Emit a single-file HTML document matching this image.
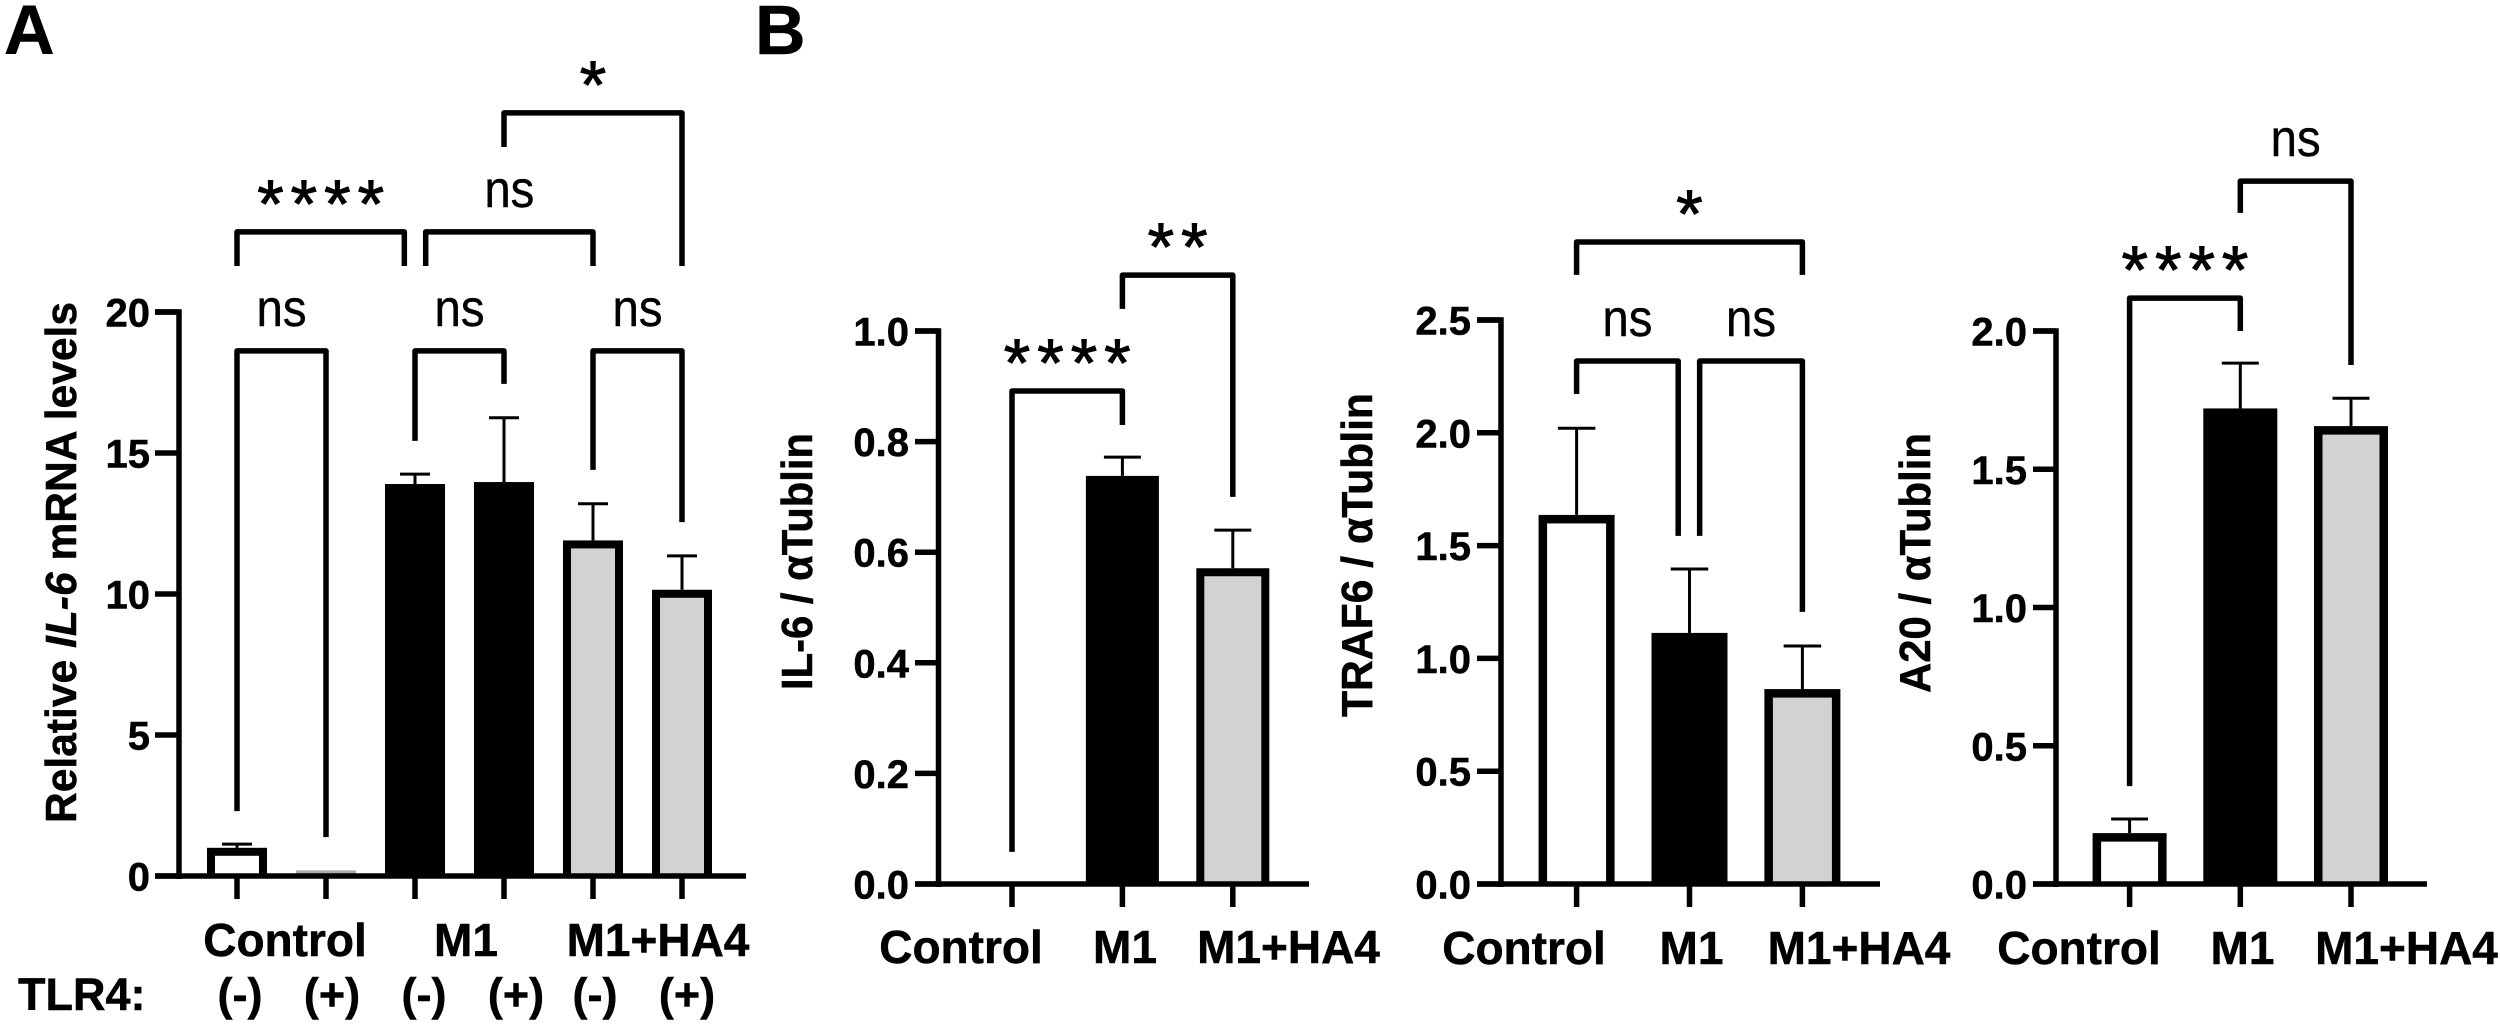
<!DOCTYPE html>
<html lang="en">
<head>
<meta charset="utf-8">
<title>IL-6, TRAF6 and A20 expression</title>
<style>
html,body{margin:0;padding:0;background:#fff;}
#figure{display:block;width:2500px;height:1025px;background:#fff;}
text{font-family:"Liberation Sans",sans-serif;fill:#000;}
.b{font-weight:bold;stroke:#000;stroke-width:0.5px;}
</style>
</head>
<body>
<svg id="figure" xmlns="http://www.w3.org/2000/svg" width="2500" height="1025" viewBox="0 0 2500 1025">
  <text class="b" x="4" y="54" font-size="70">A</text>
  <text class="b" x="755" y="54" font-size="70">B</text>

  <text class="b" transform="translate(76,562.5) rotate(-90)" text-anchor="middle" font-size="44" textLength="521" lengthAdjust="spacingAndGlyphs">Relative <tspan font-style="italic">IL-6</tspan> mRNA levels</text>
  <text class="b" transform="translate(812,561.5) rotate(-90)" text-anchor="middle" font-size="44" textLength="257" lengthAdjust="spacingAndGlyphs">IL-6 / αTublin</text>
  <text class="b" transform="translate(1372,555) rotate(-90)" text-anchor="middle" font-size="44" textLength="324" lengthAdjust="spacingAndGlyphs">TRAF6 / αTublin</text>
  <text class="b" transform="translate(1930,563) rotate(-90)" text-anchor="middle" font-size="44" textLength="260" lengthAdjust="spacingAndGlyphs">A20 / αTublin</text>

  <g class="b" font-size="46" text-anchor="middle">
    <text x="285" y="956">Control</text>
    <text x="466" y="956">M1</text>
    <text x="658" y="956">M1+HA4</text>
    <text x="961" y="963">Control</text>
    <text x="1125" y="963">M1</text>
    <text x="1288.5" y="963">M1+HA4</text>
    <text x="1524" y="964">Control</text>
    <text x="1691.5" y="964">M1</text>
    <text x="1859" y="964">M1+HA4</text>
    <text x="2079" y="964">Control</text>
    <text x="2242.5" y="964">M1</text>
    <text x="2406.5" y="964">M1+HA4</text>
  </g>

  <g class="b" font-size="45">
    <text x="18" y="1010">TLR4:</text>
    <text x="240" y="1010" text-anchor="middle">(-)</text>
    <text x="332" y="1010" text-anchor="middle">(+)</text>
    <text x="424" y="1010" text-anchor="middle">(-)</text>
    <text x="516" y="1010" text-anchor="middle">(+)</text>
    <text x="595" y="1010" text-anchor="middle">(-)</text>
    <text x="687" y="1010" text-anchor="middle">(+)</text>
  </g>
</svg>

<script>
// ---- Panel A: relative IL-6 mRNA ----
const aCategories = ['Control -', 'Control +', 'M1 -', 'M1 +', 'M1+HA4 -', 'M1+HA4 +'];
const aGroups = ['Control', 'Control', 'M1', 'M1', 'M1+HA4', 'M1+HA4'];
const aValues = [1.0, 0.2, 13.9, 13.97, 11.9, 10.15];
const aErrors = [0.13, 0, 0.35, 2.28, 1.3, 1.2];
const aTicks = [0, 5, 10, 15, 20];
const aTickLabels = ['0', '5', '10', '15', '20'];
const aBracketFrom = [3, 0, 2.12, 0, 2, 4];
const aBracketTo = [5, 1.88, 4, 1, 3, 5];
const aBracketTop = [27.06, 22.84, 22.84, 18.62, 18.62, 18.62];
const aBracketLeft = [25.85, 21.63, 21.63, 2.3, 15.43, 14.4];
const aBracketRight = [21.63, 21.63, 21.63, 1.38, 17.45, 12.55];
const aBracketText = ['*', '****', 'ns', 'ns', 'ns', 'ns'];

// ---- Panel B1: IL-6 / aTubulin ----
const il6Categories = ['Control', 'M1', 'M1+HA4'];
const il6Values = [0, 0.738, 0.571];
const il6Errors = [0, 0.034, 0.069];
const il6Ticks = [0, 0.2, 0.4, 0.6, 0.8, 1.0];
const il6TickLabels = ['0.0', '0.2', '0.4', '0.6', '0.8', '1.0'];
const il6BracketFrom = [0, 1];
const il6BracketTo = [1, 2];
const il6BracketTop = [0.8915, 1.101];
const il6BracketLeft = [0.058, 1.04];
const il6BracketRight = [0.83, 0.70];
const il6BracketText = ['****', '**'];

// ---- Panel B2: TRAF6 / aTubulin ----
const traf6Categories = ['Control', 'M1', 'M1+HA4'];
const traf6Values = [1.636, 1.113, 0.864];
const traf6Errors = [0.384, 0.283, 0.191];
const traf6Ticks = [0, 0.5, 1.0, 1.5, 2.0, 2.5];
const traf6TickLabels = ['0.0', '0.5', '1.0', '1.5', '2.0', '2.5'];
const traf6BracketFrom = [0, 0, 1.09];
const traf6BracketTo = [2, 0.9, 2];
const traf6BracketTop = [2.846, 2.318, 2.318];
const traf6BracketLeft = [2.70, 2.172, 1.543];
const traf6BracketRight = [2.70, 1.543, 1.206];
const traf6BracketText = ['*', 'ns', 'ns'];

// ---- Panel B3: A20 / aTubulin ----
const a20Categories = ['Control', 'M1', 'M1+HA4'];
const a20Values = [0.184, 1.72, 1.656];
const a20Errors = [0.051, 0.164, 0.101];
const a20Ticks = [0, 0.5, 1.0, 1.5, 2.0];
const a20TickLabels = ['0.0', '0.5', '1.0', '1.5', '2.0'];
const a20BracketFrom = [0, 1];
const a20BracketTo = [1, 2];
const a20BracketTop = [2.119, 2.542];
const a20BracketLeft = [0.354, 2.427];
const a20BracketRight = [2.0, 1.877];
const a20BracketText = ['****', 'ns'];

const SVG_NS = 'http://www.w3.org/2000/svg';
const figure = document.getElementById('figure');
const GROUP_FILL = {'Control': '#ffffff', 'M1': '#000000', 'M1+HA4': '#d2d2d2'};

function make(tag, attrs, parent) {
  const node = document.createElementNS(SVG_NS, tag);
  for (const key in attrs) node.setAttribute(key, attrs[key]);
  parent.appendChild(node);
  return node;
}

function drawPanel(p) {
  const maxTick = p.ticks[p.ticks.length - 1];
  const yScale = function (v) { return p.y0 - v * (p.y0 - p.yTop) / maxTick; };
  const xScale = function (i) { return p.x0 + i * p.xStep; };

  const root = make('g', {}, figure);
  
  

  // bars and error bars
  p.values.forEach(function (v, i) {
    const cx = xScale(i);
    const top = yScale(v);
    const h = p.y0 - top;
    const fill = GROUP_FILL[p.groups[i]];
    if (p.errors[i] > 0) {
      const capY = yScale(v + p.errors[i]);
      const stem = make('line', {x1: cx, x2: cx, y1: top, y2: capY, stroke: '#000', 'stroke-width': 3}, root);
      
      
      const cap = make('line', {x1: cx - p.capW / 2, x2: cx + p.capW / 2, y1: capY, y2: capY, stroke: '#000', 'stroke-width': 3}, root);
      
      
    }
    const thin = h < p.barStroke;
    const outer = make('rect', {x: cx - p.barW / 2, y: top, width: p.barW, height: h, fill: thin ? '#aaaaaa' : '#000'}, root);
    
    
    if (!thin) {
      const inner = make('rect', {
        x: cx - p.barW / 2 + p.barStroke,
        y: top + p.barStroke,
        width: p.barW - 2 * p.barStroke,
        height: Math.max(0, h - p.barStroke),
        fill: fill
      }, root);
      
      
    }
  });

  // y axis
  const yAxis = make('path', {
    d: 'M' + p.tickLeft + ' ' + p.yTop + ' H' + p.axisX + ' V' + (p.y0 + 3),
    fill: 'none', stroke: '#000', 'stroke-width': 5.5
  }, root);
  
  

  p.ticks.forEach(function (t, i) {
    const y = yScale(t);
    const tick = make('line', {x1: p.tickLeft, x2: p.axisX, y1: y, y2: y, stroke: '#000', 'stroke-width': 5.5}, root);
    
    
    const label = make('text', {x: p.labelRight, y: y + 14.5, 'text-anchor': 'end', 'font-size': 40, 'font-weight': 'bold', stroke: '#000', 'stroke-width': 0.5}, root);
    label.textContent = p.tickLabels[i];
    
    
  });

  // x axis
  const xAxis = make('line', {x1: p.tickLeft, x2: p.xEnd, y1: p.y0, y2: p.y0, stroke: '#000', 'stroke-width': 5.5}, root);
  
  

  p.categories.forEach(function (c, i) {
    const x = xScale(i);
    const tick = make('line', {x1: x, x2: x, y1: p.y0, y2: p.y0 + 23, stroke: '#000', 'stroke-width': 5.5}, root);
    
    
  });

  // significance brackets
  p.bFrom.forEach(function (from, i) {
    const xa = xScale(from);
    const xb = xScale(p.bTo[i]);
    const yT = yScale(p.bTop[i]);
    const bracket = make('path', {
      d: 'M' + xa + ' ' + yScale(p.bLeft[i]) + ' V' + yT + ' H' + xb + ' V' + yScale(p.bRight[i]),
      fill: 'none', stroke: '#000', 'stroke-width': 5.5, 'stroke-linejoin': 'round'
    }, root);
    
    

    const isNs = p.bText[i] === 'ns';
    const mid = (xa + xb) / 2;
    const sig = make('text', isNs
      ? {x: mid, y: yT - 25, 'text-anchor': 'middle', 'font-size': 52, textLength: 50, lengthAdjust: 'spacingAndGlyphs', stroke: '#000', 'stroke-width': 0.4}
      : {x: mid + 3.5, y: yT - 5, 'text-anchor': 'middle', 'font-size': 68, 'letter-spacing': 7, stroke: '#000', 'stroke-width': 1}, root);
    sig.textContent = p.bText[i];
    
    
  });
}

drawPanel({
  id: 'relative-il6', categories: aCategories, groups: aGroups, values: aValues, errors: aErrors,
  ticks: aTicks, tickLabels: aTickLabels,
  bFrom: aBracketFrom, bTo: aBracketTo, bTop: aBracketTop, bLeft: aBracketLeft, bRight: aBracketRight, bText: aBracketText,
  x0: 237, xStep: 89, y0: 876, yTop: 312, axisX: 179, tickLeft: 155, xEnd: 746, labelRight: 150,
  barW: 60, barStroke: 8, capW: 30
});
drawPanel({
  id: 'il6-tubulin', categories: il6Categories, groups: il6Categories, values: il6Values, errors: il6Errors,
  ticks: il6Ticks, tickLabels: il6TickLabels,
  bFrom: il6BracketFrom, bTo: il6BracketTo, bTop: il6BracketTop, bLeft: il6BracketLeft, bRight: il6BracketRight, bText: il6BracketText,
  x0: 1012, xStep: 110.4, y0: 884, yTop: 331, axisX: 938.5, tickLeft: 915, xEnd: 1309, labelRight: 909,
  barW: 73, barStroke: 8, capW: 37
});
drawPanel({
  id: 'traf6-tubulin', categories: traf6Categories, groups: traf6Categories, values: traf6Values, errors: traf6Errors,
  ticks: traf6Ticks, tickLabels: traf6TickLabels,
  bFrom: traf6BracketFrom, bTo: traf6BracketTo, bTop: traf6BracketTop, bLeft: traf6BracketLeft, bRight: traf6BracketRight, bText: traf6BracketText,
  x0: 1576.6, xStep: 112.9, y0: 884, yTop: 320, axisX: 1501, tickLeft: 1477, xEnd: 1880, labelRight: 1471,
  barW: 76, barStroke: 8.5, capW: 37.5
});
drawPanel({
  id: 'a20-tubulin', categories: a20Categories, groups: a20Categories, values: a20Values, errors: a20Errors,
  ticks: a20Ticks, tickLabels: a20TickLabels,
  bFrom: a20BracketFrom, bTo: a20BracketTo, bTop: a20BracketTop, bLeft: a20BracketLeft, bRight: a20BracketRight, bText: a20BracketText,
  x0: 2129.6, xStep: 110.7, y0: 884, yTop: 331, axisX: 2056, tickLeft: 2033, xEnd: 2427, labelRight: 2027,
  barW: 74, barStroke: 8.5, capW: 37
});
</script>
</body>
</html>
